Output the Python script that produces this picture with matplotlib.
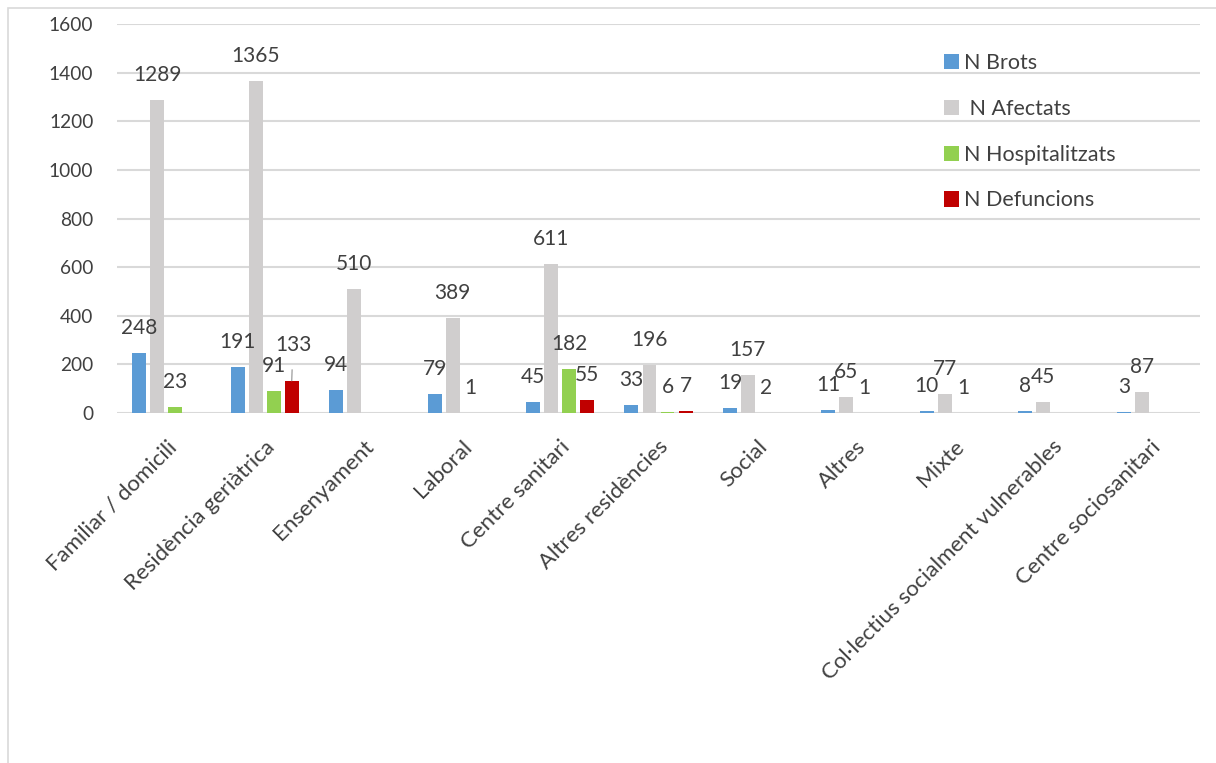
import numpy as np
import matplotlib
matplotlib.use('Agg')
import matplotlib.pyplot as plt
from matplotlib.patches import Rectangle, Patch

plt.rcParams['font.family'] = ['Lato', 'DejaVu Sans']

# dades
categories = ['Familiar / domicili', 'Residència geriàtrica', 'Ensenyament', 'Laboral',
              'Centre sanitari', 'Altres residències', 'Social', 'Altres', 'Mixte',
              'Col·lectius socialment vulnerables', 'Centre sociosanitari']
brots = [248, 191, 94, 79, 45, 33, 19, 11, 10, 8, 3]
afectats = [1289, 1365, 510, 389, 611, 196, 157, 65, 77, 45, 87]
hospitalitzats = [23, 91, None, 1, 182, 6, 2, 1, 1, None, None]
defuncions = [None, 133, None, None, 55, 7, None, None, None, None, None]

series_names = ['N Brots', ' N Afectats', 'N Hospitalitzats', 'N Defuncions']
colors = ['#5B9BD5', '#D0CECE', '#92D050', '#C00000']
text_color = '#404040'
grid_color = '#D9D9D9'

fig = plt.figure(figsize=(12.16, 7.63), dpi=100)
ax = fig.add_axes([117 / 1216, 1 - 413 / 763, (1200 - 117) / 1216, (413 - 24) / 763])

x = np.arange(len(categories))
step = 0.183
width = 0.142
all_series = [brots, afectats, hospitalitzats, defuncions]

for k, (vals, col) in enumerate(zip(all_series, colors)):
    h = np.array([np.nan if v is None else v for v in vals], dtype=float)
    xs = x + (k - 1.5) * step
    ax.bar(xs, h, width=width, color=col, zorder=3)
    for xi, v in zip(xs, vals):
        if v is None:
            continue
        if v == 133:
            # etiqueta desplaçada amb línia guia
            ax.annotate(str(v), xy=(xi, v), xytext=(1, 26), textcoords='offset points',
                        ha='center', va='center', fontsize=15, color=text_color, zorder=6,
                        arrowprops=dict(arrowstyle='-', color='#A6A6A6', lw=1,
                                        shrinkA=9, shrinkB=10))
        else:
            ax.annotate(str(v), xy=(xi, v), xytext=(0, 18), textcoords='offset points',
                        ha='center', va='center', fontsize=15, color=text_color, zorder=6)

ax.set_xlim(-0.5, len(categories) - 0.5)
ax.set_ylim(0, 1600)
ax.set_yticks(np.arange(0, 1601, 200))
ax.yaxis.grid(True, color=grid_color, linewidth=1.5, zorder=0)
ax.set_axisbelow(True)
for s in ax.spines.values():
    s.set_visible(False)
ax.tick_params(axis='y', length=0, pad=17, labelsize=13.8, labelcolor=text_color)
ax.tick_params(axis='x', length=0, pad=17, labelsize=16, labelcolor=text_color)
ax.set_xticks(x)
ax.set_xticklabels(categories, rotation=45, ha='right', rotation_mode='anchor')

handles = [Patch(facecolor=c, edgecolor='none') for c in colors]
leg = fig.legend(handles, series_names, loc='upper left',
                 bbox_to_anchor=(944 / 1216, 1 - 53 / 763), frameon=False,
                 fontsize=15.5, labelcolor=text_color, handlelength=0.7,
                 handleheight=0.7, handletextpad=0.25, labelspacing=1.2,
                 borderpad=0, borderaxespad=0)

# bora del gràfic
fig.patches.append(Rectangle((8 / 1216, -0.1), 1.2, 1 - 8 / 763 + 0.1,
                             transform=fig.transFigure, fill=False,
                             edgecolor=grid_color, linewidth=1.2))

fig.savefig('out.png', dpi=100)
